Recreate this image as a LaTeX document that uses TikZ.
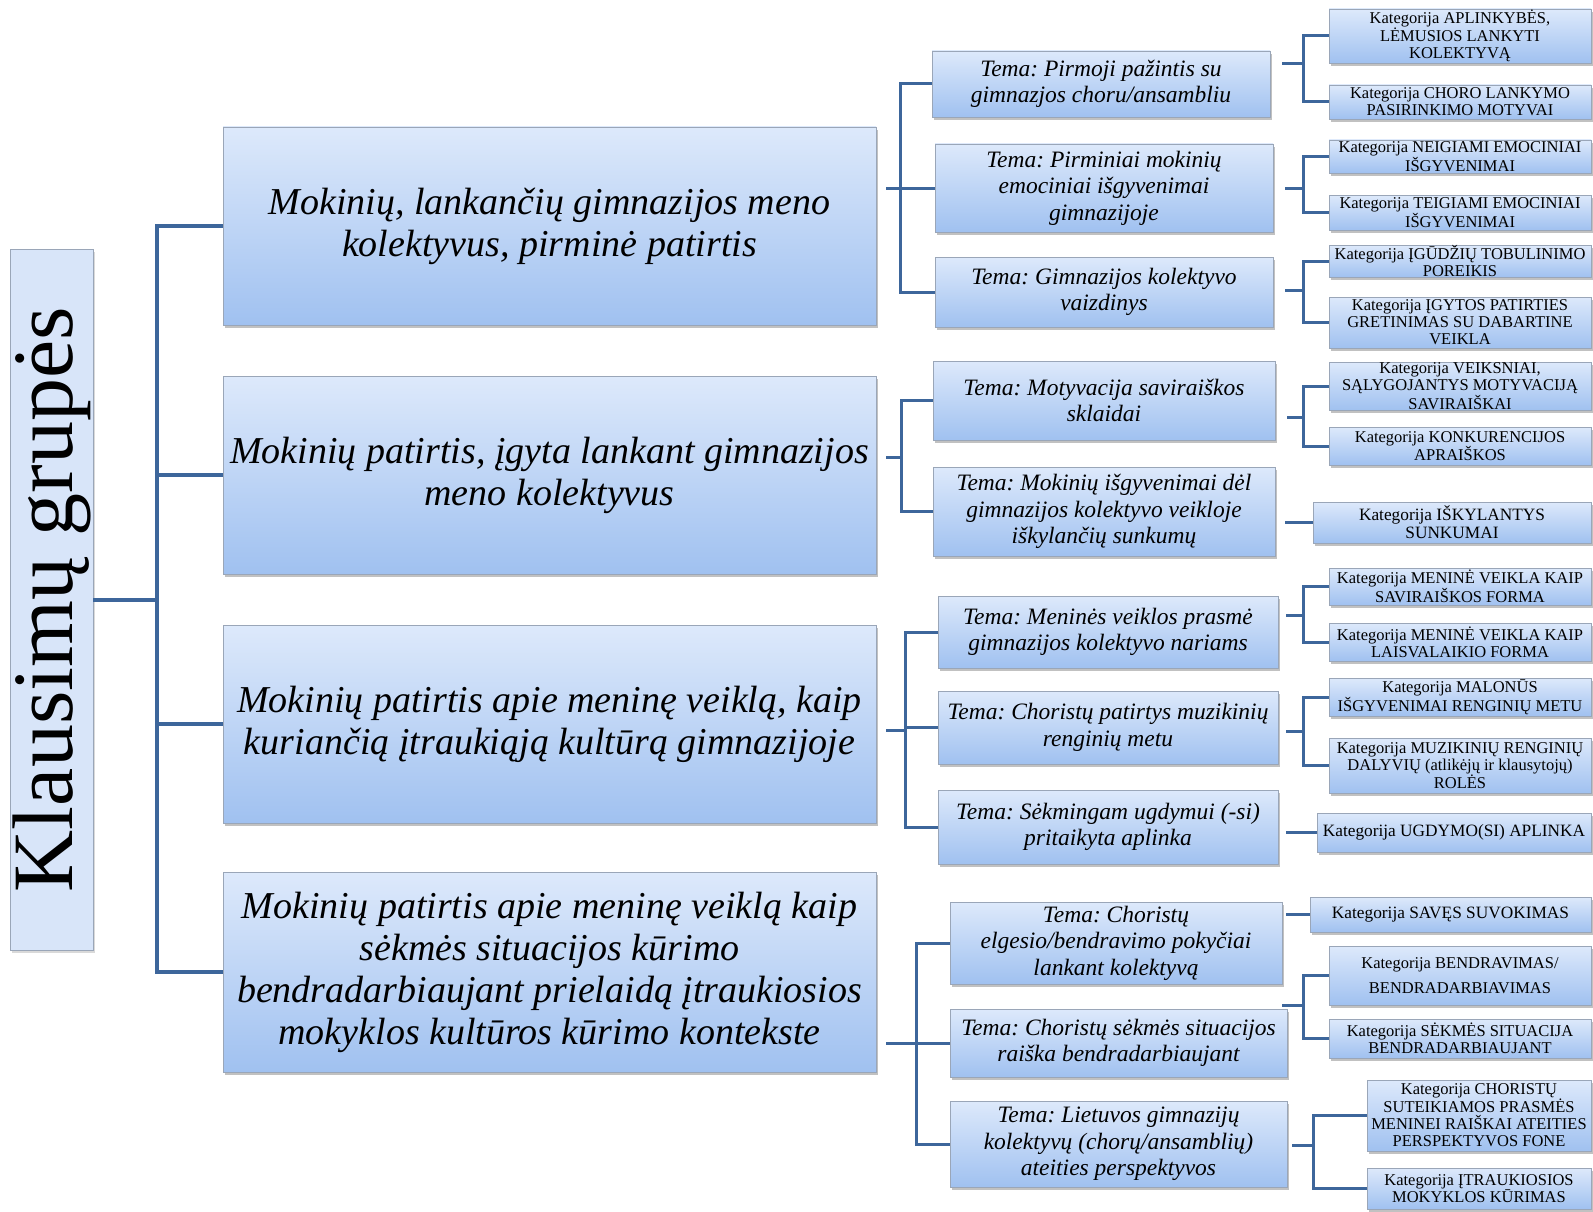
\documentclass[tikz,border=0pt]{standalone}
\usepackage{fontspec}
\setmainfont{Liberation Serif}
\usepackage{xcolor}
\usepackage{tikz}
\usetikzlibrary{positioning,shadows}
\frenchspacing

\definecolor{linkblue}{HTML}{3D669B}
\definecolor{boxtop}{HTML}{DDE9FB}
\definecolor{boxbot}{HTML}{A0C1F0}
\definecolor{boxline}{HTML}{9AA6B8}
\definecolor{sidefill}{HTML}{D8E5F9}

\begin{document}
\begin{tikzpicture}[
x=1pt, y=-1pt,
shade box/.style={rectangle, draw=boxline, line width=0.8pt, top color=boxtop, bottom color=boxbot, inner sep=0pt, align=center,
  drop shadow={shadow xshift=2pt, shadow yshift=-3pt, opacity=0.35, fill=black!70}},
grp/.style={shade box, minimum width=653pt, minimum height=198pt, font=\fontsize{38}{42}\selectfont\itshape},
tema/.style={shade box, font=\fontsize{23.5}{26.5}\selectfont\itshape},
kat/.style={shade box, font=\fontsize{16.5}{17}\selectfont},
katbig/.style={kat, font=\fontsize{17.3}{18}\selectfont},
link/.style={draw=linkblue, line width=3pt},
trunk/.style={draw=linkblue, line width=4.6pt}
]
\useasboundingbox (0,0) rectangle (1593,1212);

% Question groups
\node[rectangle, draw=boxline, line width=0.8pt, fill=sidefill, rotate=90, minimum width=701pt, minimum height=83pt, inner sep=0pt,
  font=\fontsize{86}{90}\selectfont, drop shadow={shadow xshift=2pt, shadow yshift=-3pt, opacity=0.3}] (kg) at (51.5,599.5) {Klausimų grupės};

\node[grp] (b1) at (549.5,226) {Mokinių, lankančių gimnazijos meno\\kolektyvus, pirminė patirtis};
\node[grp] (b2) at (549.5,475) {Mokinių patirtis, įgyta lankant gimnazijos\\meno kolektyvus};
\node[grp] (b3) at (549.5,724) {Mokinių patirtis apie meninę veiklą, kaip\\kuriančią įtraukiąją kultūrą gimnazijoje};
\node[grp, minimum height=200pt] (b4) at (549.5,972) {Mokinių patirtis apie meninę veiklą kaip\\sėkmės situacijos kūrimo\\bendradarbiaujant prielaidą įtraukiosios\\mokyklos kultūros kūrimo kontekste};

% Themes
\node[tema, minimum width=338pt, minimum height=66pt] (t1) at (1101,84) {Tema: Pirmoji pažintis su\\gimnazjos choru/ansambliu};
\node[tema, minimum width=338pt, minimum height=88pt] (t2) at (1104,188) {Tema: Pirminiai mokinių\\emociniai išgyvenimai\\gimnazijoje};
\node[tema, minimum width=338pt, minimum height=70pt] (t3) at (1104,292) {Tema: Gimnazijos kolektyvo\\vaizdinys};
\node[tema, minimum width=342pt, minimum height=79pt] (t4) at (1104,400.5) {Tema: Motyvacija saviraiškos\\sklaidai};
\node[tema, minimum width=342pt, minimum height=89pt] (t5) at (1104,511.5) {Tema: Mokinių išgyvenimai dėl\\gimnazijos kolektyvo veikloje\\iškylančių sunkumų};
\node[tema, minimum width=340pt, minimum height=72pt] (t6) at (1108,632) {Tema: Meninės veiklos prasmė\\gimnazijos kolektyvo nariams};
\node[tema, minimum width=340pt, minimum height=73pt] (t7) at (1108,727.5) {Tema: Choristų patirtys muzikinių\\renginių metu};
\node[tema, minimum width=340pt, minimum height=74pt] (t8) at (1108,827) {Tema: Sėkmingam ugdymui (-si)\\pritaikyta aplinka};
\node[tema, minimum width=332pt, minimum height=82pt] (t9) at (1116,943) {Tema: Choristų\\elgesio/bendravimo pokyčiai\\lankant kolektyvą};
\node[tema, minimum width=337pt, minimum height=68pt] (t10) at (1118.5,1043) {Tema: Choristų sėkmės situacijos\\raiška bendradarbiaujant};
\node[tema, minimum width=337pt, minimum height=86pt] (t11) at (1118.5,1144) {Tema: Lietuvos gimnazijų\\kolektyvų (chorų/ansamblių)\\ateities perspektyvos};

% Categories
\node[kat, minimum width=262pt, minimum height=54pt] (c1) at (1460,36) {Kategorija APLINKYBĖS,\\LĖMUSIOS LANKYTI\\KOLEKTYVĄ};
\node[kat, minimum width=262pt, minimum height=34pt] (c2) at (1460,102) {Kategorija CHORO LANKYMO\\PASIRINKIMO MOTYVAI};
\node[kat, minimum width=262pt, minimum height=33pt] (c3) at (1460,156.5) {Kategorija NEIGIAMI EMOCINIAI\\IŠGYVENIMAI};
\node[kat, minimum width=262pt, minimum height=35pt] (c4) at (1460,212.5) {Kategorija TEIGIAMI EMOCINIAI\\IŠGYVENIMAI};
\node[kat, minimum width=262pt, minimum height=32pt] (c5) at (1460,261) {Kategorija ĮGŪDŽIŲ TOBULINIMO\\POREIKIS};
\node[kat, minimum width=262pt, minimum height=51pt] (c6) at (1460,322.5) {Kategorija ĮGYTOS PATIRTIES\\GRETINIMAS SU DABARTINE\\VEIKLA};
\node[kat, minimum width=262pt, minimum height=48pt] (c7) at (1460,386) {Kategorija VEIKSNIAI,\\SĄLYGOJANTYS MOTYVACIJĄ\\SAVIRAIŠKAI};
\node[kat, minimum width=262pt, minimum height=38pt] (c8) at (1460,446) {Kategorija KONKURENCIJOS\\APRAIŠKOS};
\node[katbig, minimum width=278pt, minimum height=41pt] (c9) at (1452,522.5) {Kategorija IŠKYLANTYS\\SUNKUMAI};
\node[kat, minimum width=262pt, minimum height=37pt] (c10) at (1460,586.5) {Kategorija MENINĖ VEIKLA KAIP\\SAVIRAIŠKOS FORMA};
\node[kat, minimum width=262pt, minimum height=38pt] (c11) at (1460,642) {Kategorija MENINĖ VEIKLA KAIP\\LAISVALAIKIO FORMA};
\node[kat, minimum width=262pt, minimum height=38pt] (c12) at (1460,697) {Kategorija MALONŪS\\IŠGYVENIMAI RENGINIŲ METU};
\node[kat, minimum width=262pt, minimum height=55pt] (c13) at (1460,765.5) {Kategorija MUZIKINIŲ RENGINIŲ\\DALYVIŲ (atlikėjų ir klausytojų)\\ROLĖS};
\node[katbig, minimum width=274pt, minimum height=39pt] (c14) at (1454,832.5) {Kategorija UGDYMO(SI) APLINKA};
\node[katbig, minimum width=281pt, minimum height=35pt] (c15) at (1450.5,914.5) {Kategorija SAVĘS SUVOKIMAS};
\node[kat, minimum width=262pt, minimum height=59pt] (c16) at (1460,975.5) {Kategorija BENDRAVIMAS/\\[8pt]BENDRADARBIAVIMAS};
\node[kat, minimum width=262pt, minimum height=39pt] (c17) at (1460,1038.5) {Kategorija SĖKMĖS SITUACIJA\\BENDRADARBIAUJANT};
\node[kat, minimum width=224pt, minimum height=71pt] (c18) at (1479,1115.5) {Kategorija CHORISTŲ\\SUTEIKIAMOS PRASMĖS\\MENINEI RAIŠKAI ATEITIES\\PERSPEKTYVOS FONE};
\node[kat, minimum width=224pt, minimum height=41pt] (c19) at (1479,1188.5) {Kategorija ĮTRAUKIOSIOS\\MOKYKLOS KŪRIMAS};

% Trunk
\coordinate (sp) at (157,600);
\draw[trunk] (kg.south |- sp) -- (sp);
\draw[trunk] (b1.west) -| (sp) |- (b4.west);
\draw[trunk] (b2.west -| sp) -- (b2.west);
\draw[trunk] (b3.west -| sp) -- (b3.west);

% Groups -> themes
\coordinate (g1) at (900,188);
\draw[link] ([xshift=10pt]b1.east |- g1) -- (g1);
\draw[link] (t1.west) -| (g1) |- (t3.west);
\draw[link] (g1) -- (t2.west);

\coordinate (g2) at (901,457);
\draw[link] ([xshift=10pt]b2.east |- g2) -- (g2);
\draw[link] (t4.west) -| (g2) |- (t5.west);

\coordinate (g3) at (905,730);
\draw[link] ([xshift=10pt]b3.east |- g3) -- (g3);
\draw[link] (t6.west) -| (g3) |- (t8.west);
\draw[link] (t7.west -| g3) -- (t7.west);

\coordinate (g4) at (916,1043);
\draw[link] ([xshift=10pt]b4.east |- g4) -- (g4);
\draw[link] (t9.west) -| (g4) |- (t11.west);
\draw[link] (g4) -- (t10.west);

% Themes -> categories
\coordinate (k1) at (1303,64);
\draw[link] ([xshift=12pt]t1.east |- k1) -- (k1);
\draw[link] (c1.west) -| (k1) |- (c2.west);

\coordinate (k2) at (1303,188);
\draw[link] ([xshift=12pt]t2.east |- k2) -- (k2);
\draw[link] (c3.west) -| (k2) |- (c4.west);

\coordinate (k3) at (1303,290);
\draw[link] ([xshift=12pt]t3.east |- k3) -- (k3);
\draw[link] (c5.west) -| (k3) |- (c6.west);

\coordinate (k4) at (1303,417);
\draw[link] ([xshift=12pt]t4.east |- k4) -- (k4);
\draw[link] (c7.west) -| (k4) |- (c8.west);

\draw[link] ([xshift=10pt]t5.east |- c9.west) -- (c9.west);

\coordinate (k6) at (1303,615);
\draw[link] ([xshift=8pt]t6.east |- k6) -- (k6);
\draw[link] (c10.west) -| (k6) |- (c11.west);

\coordinate (k7) at (1303,731);
\draw[link] ([xshift=8pt]t7.east |- k7) -- (k7);
\draw[link] (c12.west) -| (k7) |- (c13.west);

\draw[link] ([xshift=8pt]t8.east |- c14.west) -- (c14.west);
\draw[link] ([xshift=4pt]t9.east |- c15.west) -- (c15.west);

\coordinate (k10) at (1303,1005);
\draw[link] ([xshift=-5pt]t10.east |- k10) -- (k10);
\draw[link] (c16.west) -| (k10) |- (c17.west);

\coordinate (k11) at (1313,1145);
\draw[link] ([xshift=5pt]t11.east |- k11) -- (k11);
\draw[link] (c18.west) -| (k11) |- (c19.west);

\end{tikzpicture}
\end{document}
